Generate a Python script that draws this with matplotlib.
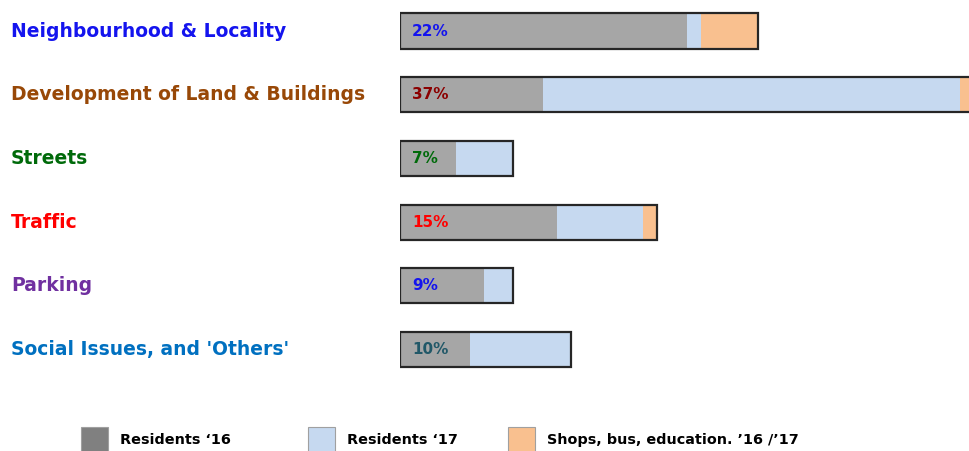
import numpy as np
import matplotlib.pyplot as plt
from matplotlib.patches import Rectangle
from matplotlib.transforms import blended_transform_factory

# donnees (unites arbitraires)
categories = ["Neighbourhood & Locality", "Development of Land & Buildings",
              "Streets", "Traffic", "Parking", "Social Issues, and 'Others'"]
residents16 = [28.7, 14.3, 5.6, 15.7, 8.4, 7.0]
residents17 = [1.4, 41.7, 5.7, 8.6, 2.9, 10.1]
shops = [5.7, 2.5, 0.0, 1.4, 0.0, 0.0]
pct_labels = ["22%", "37%", "7%", "15%", "9%", "10%"]

cat_colors = ["#1414ee", "#984807", "#006a0a", "#ff0000", "#7030a0", "#0070c0"]
pct_colors = ["#1414ee", "#8b0000", "#006a0a", "#ff0000", "#1414ee", "#215868"]
legend_labels = ["Residents \u201816", "Residents \u201817", "Shops, bus, education. \u201916 /\u201917"]

plt.rcParams['font.family'] = ['DejaVu Sans']

fig = plt.figure(figsize=(9.69, 4.51), dpi=100)
ax = fig.add_axes([400 / 969, 0, 569 / 969, 1])

y = np.arange(len(categories))
r16 = np.array(residents16)
r17 = np.array(residents17)
sh = np.array(shops)
h = 0.55

ax.barh(y, r16, height=h, color="#a6a6a6", linewidth=0)
ax.barh(y, r17, left=r16, height=h, color="#c6d9f0", linewidth=0)
ax.barh(y, sh, left=r16 + r17, height=h, color="#f9c08f", linewidth=0)
# contour autour de la barre totale
ax.barh(y, r16 + r17 + sh, height=h, facecolor="none", edgecolor="#262626", linewidth=1.6)

ax.set_xlim(0, 56.9)
ax.set_ylim((451 - 31) / 63.7, -31 / 63.7)
ax.axis("off")

trans = blended_transform_factory(fig.transFigure, ax.transData)
for i, cat in enumerate(categories):
    ax.text(11 / 969, y[i], cat, transform=trans, ha="left", va="center",
            fontsize=13.5, fontweight="bold", color=cat_colors[i], clip_on=False)
    ax.text(1.2, y[i], pct_labels[i], ha="left", va="center",
            fontsize=11, fontweight="bold", color=pct_colors[i])

# legende manuelle en bas
leg_colors = ["#808080", "#c6d9f0", "#f9c08f"]
leg_x = [81, 308, 508]
for lx, col, lab in zip(leg_x, leg_colors, legend_labels):
    fig.patches.append(Rectangle((lx / 969, -2 / 451), 27 / 969, 26 / 451,
                                 transform=fig.transFigure, facecolor=col,
                                 edgecolor="#a0a0a0", linewidth=0.8))
    fig.text((lx + 39) / 969, 11 / 451, lab, ha="left", va="center",
             fontsize=10.4, fontweight="bold", color="black")

fig.savefig("out.png", dpi=100)
